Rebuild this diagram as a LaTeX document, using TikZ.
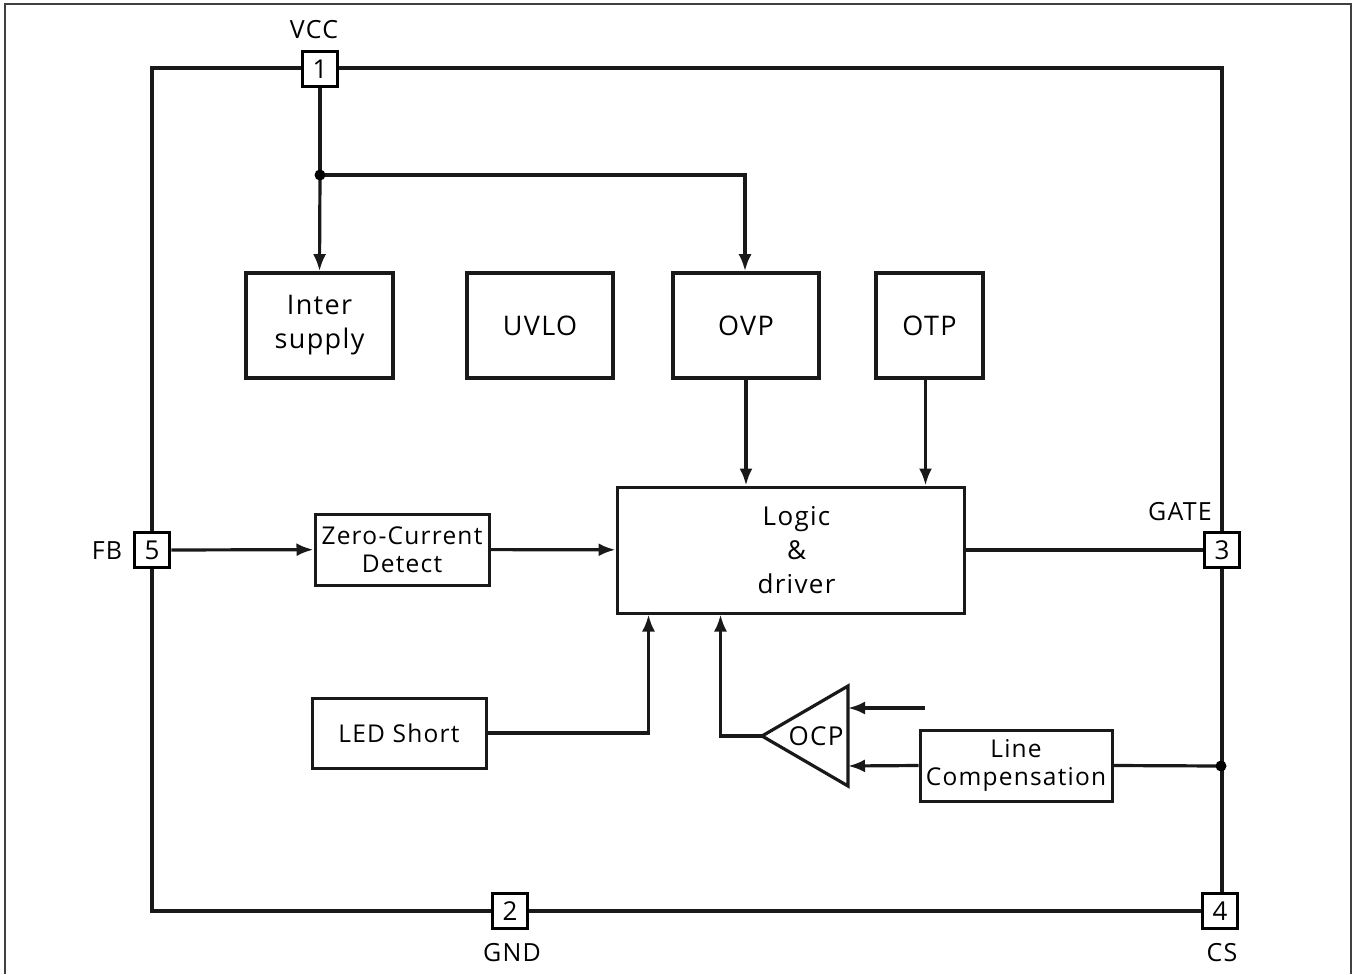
\documentclass[tikz,border=0pt]{standalone}
\usepackage{fontspec}
\setmainfont{Open Sans}[LetterSpace=5]
\usetikzlibrary{arrows.meta,positioning}

\begin{document}
\begin{tikzpicture}[x=1pt,y=-1pt,>={Latex[length=17pt,width=13pt]},
 wire/.style={line width=3.2pt,black!90},
 arr/.style={wire,->},
 block/.style={draw=black!90,line width=3.6pt,minimum height=105pt,align=center,
  inner sep=0pt,font=\fontsize{27}{34}\selectfont},
 subblock/.style={draw=black!90,line width=3pt,minimum height=71pt,align=center,
  inner sep=0pt,font=\fontsize{24.5}{28}\selectfont},
 pinbox/.style={draw=black,line width=3.8pt,fill=white,minimum size=35pt,inner sep=0pt,
  font=\fontsize{26}{26}\selectfont},
 pinname/.style={inner sep=0pt,font=\fontsize{25}{25}\selectfont},
 frame/.style={line width=1.6pt,black!75}]
\useasboundingbox (0,0) rectangle (1356,974);
\draw[frame] (5,974) |- (1351,4) -- (1351,974);

% package outline
\draw[wire] (152,68) rectangle (1222,911);

% pins
\node[pinbox] (p1) at (320,69) {1};
\node[pinbox] (p2) at (510,911) {2};
\node[pinbox] (p3) at (1222,550) {3};
\node[pinbox] (p4) at (1220,911) {4};
\node[pinbox] (p5) at (152,550) {5};
\node[pinname] (vcc) at (314,30) {VCC};
\node[pinname] (gnd) at (512,953) {GND};
\node[pinname] (gate) at (1180,512) {GATE};
\node[pinname] (cs) at (1222,953) {CS};
\node[pinname] (fb) at (107,551) {FB};

% top row of blocks
\node[block,minimum width=147pt] (inter) at (319.5,325.5) {Inter\\supply};
\node[block,minimum width=146pt] (uvlo) at (540,325.5) {UVLO};
\node[block,minimum width=146pt] (ovp) at (746,325.5) {OVP};
\node[block,minimum width=107pt] (otp) at (929.5,325.5) {OTP};

\node[draw=black!90,line width=3pt,minimum width=347pt,minimum height=126pt,
  inner sep=0pt,align=center,font=\fontsize{26}{34}\selectfont] (logic) at (790.5,550)
  {\hspace*{12pt}Logic\\\hspace*{12pt}\&\\\hspace*{12pt}driver};

\node[subblock,minimum width=174pt] (zcd) at (402,549.5) {Zero-Current\\Detect};
\node[subblock,minimum width=174pt,minimum height=70pt] (led) at (399,733) {LED Short};
\node[subblock,minimum width=192pt] (lcomp) at (1016,765.5) {Line\\Compensation};

% comparator
\draw[wire] (848,686) -- (848,786) -- (762,736) -- cycle;
\node[inner sep=0pt,font=\fontsize{26}{26}\selectfont] (ocp) at (816,736) {OCP};
\coordinate (ocpin1) at (848,708);
\coordinate (ocpin2) at (848,766);
\coordinate (ocpout) at (762,736);
\coordinate (ocpref) at (925,708);

% VCC distribution
\coordinate (vjoin) at (320,175);
\draw[wire] (p1) -- (vjoin);
\draw[arr] (vjoin) -- (inter.north);
\draw[arr] (vjoin) -| ([xshift=-1pt]ovp.north);
\fill (vjoin) circle (5.5pt);

\draw[arr] (ovp.south) -- (ovp.south |- logic.north);
\draw[arr] ([xshift=-4pt]otp.south) -- ([xshift=-4pt]otp.south |- logic.north);

\draw[arr] (p5) -- (zcd);
\draw[arr] (zcd) -- (logic);
\draw[wire] (logic) -- (p3);

\draw[arr] (led.east) -| ([xshift=33pt]logic.south west);
\draw[arr] (ocpout) -| ([xshift=105pt]logic.south west);
\draw[arr] (ocpref) -- (ocpin1);
\draw[arr] (lcomp.west) -- (ocpin2);

\coordinate (csjoin) at (1221,766);
\draw[wire] (lcomp.east) -- (csjoin);
\fill (csjoin) circle (5.5pt);
\end{tikzpicture}
\end{document}
